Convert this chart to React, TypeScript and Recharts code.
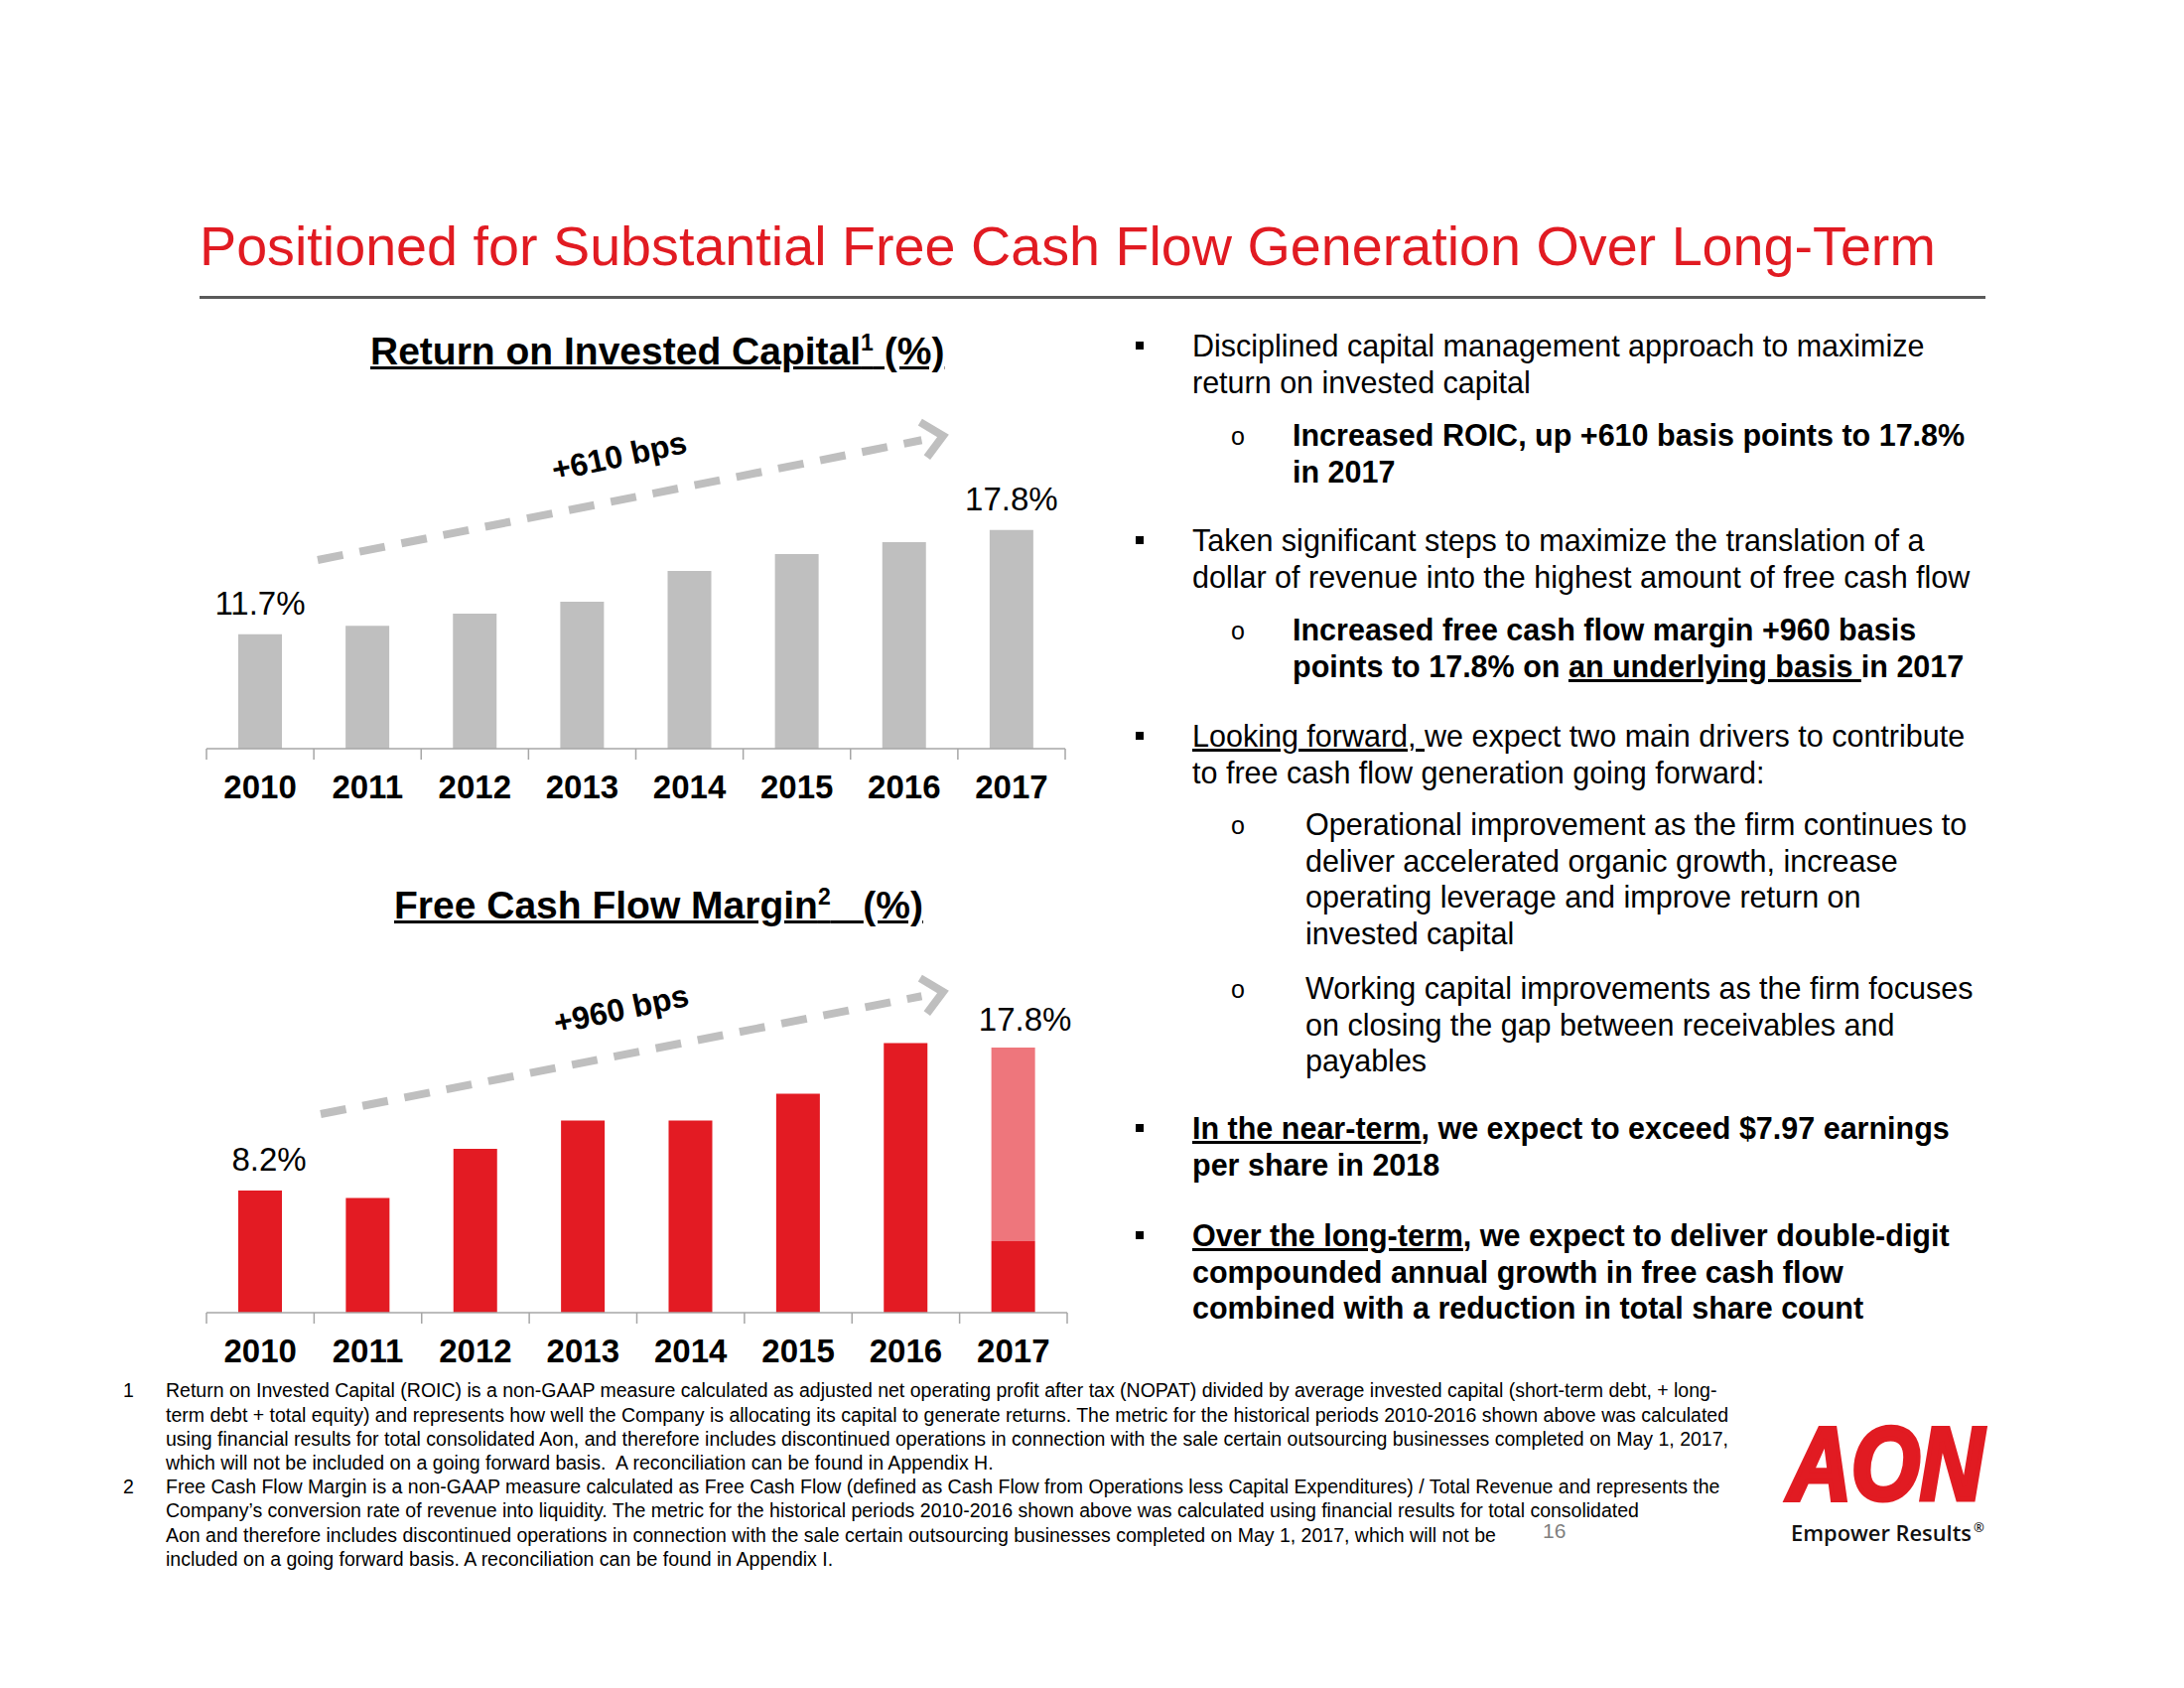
import React from 'react'
import { BarChart, Bar, XAxis, YAxis, LabelList } from 'recharts'

// ---- data ----
const years = ['2010', '2011', '2012', '2013', '2014', '2015', '2016', '2017']
const roicValues = [11.7, 12.2, 12.9, 13.6, 15.4, 16.4, 17.1, 17.8]
const fcfReported = [8.2, 7.7, 11.0, 12.9, 12.9, 14.7, 18.1, 4.8]
const fcfUnderlyingAdj = [0, 0, 0, 0, 0, 0, 0, 13.0]

const last = years.length - 1
const roicData = years.map((year, i) => ({
  year,
  roic: roicValues[i],
  label: i === 0 || i === last ? roicValues[i] : null,
}))
const fcfData = years.map((year, i) => {
  const total = fcfReported[i] + fcfUnderlyingAdj[i]
  return {
    year,
    reported: fcfReported[i],
    adj: fcfUnderlyingAdj[i],
    firstLabel: i === 0 ? total : null,
    lastLabel: i === last ? total : null,
  }
})

const RED = '#E31B23'
const RED_LIGHT = '#EE767C'
const GRAY_BAR = '#BFBFBF'
const AXIS_GRAY = '#A6A6A6'
const FONT = '"Liberation Sans", Arial, Helvetica, sans-serif'

const CHART_W = 900

// text line placed by its baseline (line-height = font size)
function T({
  x,
  base,
  size,
  bold,
  color = '#000',
  children,
  style,
}: {
  x: number
  base: number
  size: number
  bold?: boolean
  color?: string
  children: React.ReactNode
  style?: React.CSSProperties
}) {
  return (
    <div
      style={{
        position: 'absolute',
        left: x,
        top: base - 0.8465 * size,
        fontSize: size,
        lineHeight: `${size}px`,
        fontWeight: bold ? 'bold' : 'normal',
        color,
        whiteSpace: 'pre',
        ...style,
      }}
    >
      {children}
    </div>
  )
}

const U = ({ children }: { children: React.ReactNode }) => (
  <span style={{ textDecoration: 'underline' }}>{children}</span>
)

// year ticks with separator marks between the categories
function YearTick(props: any) {
  const { x, y, payload, index, visibleTicksCount, band } = props
  const left = x - band / 2
  return (
    <g>
      <line x1={left} x2={left} y1={y} y2={y + 11} stroke={AXIS_GRAY} strokeWidth={1.5} />
      {index === visibleTicksCount - 1 && (
        <line x1={x + band / 2} x2={x + band / 2} y1={y} y2={y + 11} stroke={AXIS_GRAY} strokeWidth={1.5} />
      )}
      <text
        x={x}
        y={y + 50}
        textAnchor="middle"
        fontSize={33}
        fontWeight="bold"
        fill="#000"
        fontFamily={FONT}
      >
        {payload.value}
      </text>
    </g>
  )
}

// percentage label above a bar, only where the label field has a value
const valueLabel = (dx: number, lift: number) => (props: any) => {
  const v = props.value
  if (typeof v !== 'number') return null
  const vb = props.viewBox || {}
  const x = props.x ?? vb.x
  const y = props.y ?? vb.y
  const width = props.width ?? vb.width
  return (
    <text
      x={x + width / 2 + dx}
      y={y - lift}
      textAnchor="middle"
      fontSize={33}
      fill="#000"
      fontFamily={FONT}
    >
      {`${v.toFixed(1)}%`}
    </text>
  )
}

function DashedArrow({ x1, y1, x2, y2 }: { x1: number; y1: number; x2: number; y2: number }) {
  const dx = x2 - x1
  const dy = y2 - y1
  const len = Math.hypot(dx, dy)
  const ux = dx / len
  const uy = dy / len
  const arm = 27
  const a = (42 * Math.PI) / 180
  const p1 = [x2 + arm * (-ux * Math.cos(a) + uy * Math.sin(a)), y2 + arm * (-ux * Math.sin(a) - uy * Math.cos(a))]
  const p2 = [x2 + arm * (-ux * Math.cos(-a) + uy * Math.sin(-a)), y2 + arm * (-ux * Math.sin(-a) - uy * Math.cos(-a))]
  return (
    <g>
      <line
        x1={x1}
        y1={y1}
        x2={x2 - ux * 22}
        y2={y2 - uy * 22}
        stroke={GRAY_BAR}
        strokeWidth={8}
        strokeDasharray="26 17"
      />
      <polyline
        points={`${p1[0]},${p1[1]} ${x2},${y2} ${p2[0]},${p2[1]}`}
        fill="none"
        stroke={GRAY_BAR}
        strokeWidth={8}
        strokeLinejoin="miter"
      />
    </g>
  )
}

const bulletLines: {
  kind: 'main' | 'sub'
  bold?: boolean
  base: number
  lines: React.ReactNode[]
}[] = [
  {
    kind: 'main',
    base: 359,
    lines: ['Disciplined capital management approach to maximize', 'return on invested capital'],
  },
  {
    kind: 'sub',
    bold: true,
    base: 449,
    lines: ['Increased ROIC, up +610 basis points to 17.8%', 'in 2017'],
  },
  {
    kind: 'main',
    base: 555,
    lines: [
      'Taken significant steps to maximize the translation of a',
      'dollar of revenue into the highest amount of free cash flow',
    ],
  },
  {
    kind: 'sub',
    bold: true,
    base: 645,
    lines: [
      'Increased free cash flow margin +960 basis',
      <>
        points to 17.8% on <U>an underlying basis </U>in 2017
      </>,
    ],
  },
  {
    kind: 'main',
    base: 752,
    lines: [
      <>
        <U>Looking forward, </U>we expect two main drivers to contribute
      </>,
      'to free cash flow generation going forward:',
    ],
  },
  {
    kind: 'sub',
    base: 841,
    lines: [
      'Operational improvement as the firm continues to',
      'deliver accelerated organic growth, increase',
      'operating leverage and improve return on',
      'invested capital',
    ],
  },
  {
    kind: 'sub',
    base: 1006,
    lines: [
      'Working capital improvements as the firm focuses',
      'on closing the gap between receivables and',
      'payables',
    ],
  },
  {
    kind: 'main',
    bold: true,
    base: 1147,
    lines: [
      <>
        <U>In the near-term</U>, we expect to exceed $7.97 earnings
      </>,
      'per share in 2018',
    ],
  },
  {
    kind: 'main',
    bold: true,
    base: 1255,
    lines: [
      <>
        <U>Over the long-term</U>, we expect to deliver double-digit
      </>,
      'compounded annual growth in free cash flow',
      'combined with a reduction in total share count',
    ],
  },
]

const footnotes: { num: string; lines: string[] }[] = [
  {
    num: '1',
    lines: [
      'Return on Invested Capital (ROIC) is a non-GAAP measure calculated as adjusted net operating profit after tax (NOPAT) divided by average invested capital (short-term debt, + long-',
      'term debt + total equity) and represents how well the Company is allocating its capital to generate returns. The metric for the historical periods 2010-2016 shown above was calculated',
      'using financial results for total consolidated Aon, and therefore includes discontinued operations in connection with the sale certain outsourcing businesses completed on May 1, 2017,',
      'which will not be included on a going forward basis.  A reconciliation can be found in Appendix H.',
    ],
  },
  {
    num: '2',
    lines: [
      'Free Cash Flow Margin is a non-GAAP measure calculated as Free Cash Flow (defined as Cash Flow from Operations less Capital Expenditures) / Total Revenue and represents the',
      'Company\u2019s conversion rate of revenue into liquidity. The metric for the historical periods 2010-2016 shown above was calculated using financial results for total consolidated',
      'Aon and therefore includes discontinued operations in connection with the sale certain outsourcing businesses completed on May 1, 2017, which will not be',
      'included on a going forward basis. A reconciliation can be found in Appendix I.',
    ],
  },
]

export default function App() {
  const topMargin = { top: 36, right: 27, bottom: 0, left: 8 }
  const botMargin = { top: 32, right: 25, bottom: 0, left: 8 }
  const bandTop = (CHART_W - topMargin.left - topMargin.right) / years.length
  const bandBot = (CHART_W - botMargin.left - botMargin.right) / years.length
  const LINE = 36.6

  return (
    <div
      style={{
        position: 'absolute',
        left: 0,
        top: 0,
        width: 2200,
        height: 1700,
        background: '#fff',
        fontFamily: FONT,
        overflow: 'hidden',
      }}
    >
      {/* slide title */}
      <T x={201} base={268} size={55.7} color="#E11B22">
        Positioned for Substantial Free Cash Flow Generation Over Long-Term
      </T>
      <div style={{ position: 'absolute', left: 201, top: 298, width: 1799, height: 3, background: '#5A5A5A' }} />

      {/* chart titles */}
      <T x={373} base={367} size={39} bold>
        <U>
          Return on Invested Capital<sup style={{ fontSize: 23, lineHeight: 0 }}>1</sup> (%)
        </U>
      </T>
      <T x={397} base={925} size={39} bold>
        <U>
          Free Cash Flow Margin<sup style={{ fontSize: 23, lineHeight: 0 }}>2</sup>{'   '}(%)
        </U>
      </T>

      {/* ROIC chart */}
      <div style={{ position: 'absolute', left: 200, top: 460 }}>
        <BarChart width={CHART_W} height={354} data={roicData} margin={topMargin}>
          <YAxis hide domain={[5, 20]} />
          <XAxis
            dataKey="year"
            interval={0}
            height={60}
            tickSize={0}
            tickMargin={0}
            tickLine={false}
            axisLine={{ stroke: AXIS_GRAY, strokeWidth: 1.5 }}
            tick={(p: any) => <YearTick {...p} band={bandTop} />}
          />
          <Bar dataKey="roic" fill={GRAY_BAR} barSize={44} isAnimationActive={false}>
            <LabelList dataKey="label" content={valueLabel(0, 20)} />
          </Bar>
        </BarChart>
      </div>

      {/* FCF margin chart */}
      <div style={{ position: 'absolute', left: 200, top: 990 }}>
        <BarChart width={CHART_W} height={392} data={fcfData} margin={botMargin}>
          <YAxis hide domain={[0, 20]} />
          <XAxis
            dataKey="year"
            interval={0}
            height={60}
            tickSize={0}
            tickMargin={0}
            tickLine={false}
            axisLine={{ stroke: AXIS_GRAY, strokeWidth: 1.5 }}
            tick={(p: any) => <YearTick {...p} band={bandBot} />}
          />
          <Bar dataKey="reported" stackId="fcf" fill={RED} barSize={44} isAnimationActive={false}>
            <LabelList dataKey="firstLabel" content={valueLabel(9, 20)} />
          </Bar>
          <Bar dataKey="adj" stackId="fcf" fill={RED_LIGHT} barSize={44} isAnimationActive={false}>
            <LabelList dataKey="lastLabel" content={valueLabel(12, 17)} />
          </Bar>
        </BarChart>
      </div>

      {/* trend arrows, logo */}
      <svg
        width={2200}
        height={1700}
        style={{ position: 'absolute', left: 0, top: 0, pointerEvents: 'none' }}
      >
        <DashedArrow x1={320} y1={564} x2={950} y2={439} />
        <text
          x={626}
          y={470}
          textAnchor="middle"
          fontSize={32}
          fontWeight="bold"
          fontFamily={FONT}
          transform="rotate(-12 626 470)"
        >
          +610 bps
        </text>
        <DashedArrow x1={323} y1={1122} x2={950} y2={999} />
        <text
          x={628}
          y={1027}
          textAnchor="middle"
          fontSize={32}
          fontWeight="bold"
          fontFamily={FONT}
          transform="rotate(-12 628 1027)"
        >
          +960 bps
        </text>

        <text
          x={1801}
          y={1510}
          fontSize={104}
          fontWeight={900}
          fontStyle="italic"
          fontFamily={FONT}
          fill="#E11B22"
          stroke="#E11B22"
          strokeWidth={5}
          textLength={197}
          lengthAdjust="spacingAndGlyphs"
        >
          AON
        </text>
        <text
          x={1804}
          y={1552}
          fontSize={21.5}
          fontWeight={600}
          fontFamily='"Open Sans", sans-serif'
          fill="#111"
        >
          <tspan textLength={182} lengthAdjust="spacingAndGlyphs">
            Empower Results
          </tspan>
          <tspan fontSize={13} dy={-9} dx={2}>
            ®
          </tspan>
        </text>
      </svg>

      {/* right-hand commentary */}
      {bulletLines.map((b, bi) => {
        const textX = b.kind === 'main' ? 1201 : b.bold ? 1302 : 1315
        return (
          <React.Fragment key={bi}>
            {b.kind === 'main' ? (
              <div
                style={{
                  position: 'absolute',
                  left: 1144,
                  top: b.base - 15,
                  width: 8,
                  height: 8,
                  background: '#000',
                }}
              />
            ) : (
              <T x={1240} base={b.base - 1} size={25}>
                o
              </T>
            )}
            {b.lines.map((ln, li) => (
              <T key={li} x={textX} base={b.base + li * LINE} size={30.5} bold={b.bold}>
                {ln}
              </T>
            ))}
          </React.Fragment>
        )
      })}

      {/* footnotes */}
      {footnotes.map((f, fi) => (
        <React.Fragment key={fi}>
          <T x={124} base={1408 + fi * 4 * 24.2} size={19.5}>
            {f.num}
          </T>
          {f.lines.map((ln, li) => (
            <T key={li} x={167} base={1408 + (fi * 4 + li) * 24.2} size={19.5}>
              {ln}
            </T>
          ))}
        </React.Fragment>
      ))}
      <T x={1554} base={1549} size={21} color="#7F7F7F">
        16
      </T>
    </div>
  )
}
